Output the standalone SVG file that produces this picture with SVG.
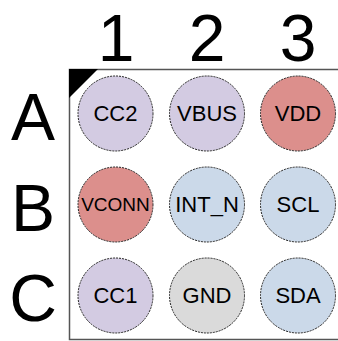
<svg xmlns="http://www.w3.org/2000/svg" width="338" height="341" viewBox="0 0 338 341">
<style>
.lbl{font-family:"Liberation Sans",Arial,sans-serif;font-size:66px;fill:#000;text-anchor:middle}
.pin{stroke:#222;stroke-width:1;stroke-dasharray:2,1}
.pt{font-family:"Liberation Sans",Arial,sans-serif;font-size:22px;fill:#000;text-anchor:middle;dominant-baseline:central}
.p{fill:#d3cbe2}.r{fill:#dc8f8c}.b{fill:#cbd9e9}.g{fill:#dadada}
</style>
<rect x="0" y="0" width="338" height="341" fill="#fff"/>
<g id="labels">
<text class="lbl" x="116" y="61">1</text>
<text class="lbl" x="207" y="61">2</text>
<text class="lbl" x="298" y="61">3</text>
<text class="lbl" x="33" y="140">A</text>
<text class="lbl" x="33" y="231">B</text>
<text class="lbl" x="33" y="321">C</text>
</g>
<g id="package">
<path d="M338,69.5 H69.5 V339.5 H338" fill="none" stroke="#555" stroke-width="1.5"/>
<polygon points="69,69 98,69 69,98" fill="#000"/>
</g>
<g id="A1"><circle class="pin p" cx="115.5" cy="113.5" r="37.5"/><text class="pt" x="115.5" y="113.5">CC2</text></g>
<g id="A2"><circle class="pin p" cx="207" cy="113.5" r="37.5"/><text class="pt" x="207" y="113.5">VBUS</text></g>
<g id="A3"><circle class="pin r" cx="298" cy="113.5" r="37.5"/><text class="pt" x="298" y="113.5">VDD</text></g>
<g id="B1"><circle class="pin r" cx="115.5" cy="204.5" r="37.5"/><text class="pt" x="115.5" y="204.5" style="font-size:19px">VCONN</text></g>
<g id="B2"><circle class="pin b" cx="207" cy="204.5" r="37.5"/><text class="pt" x="207" y="204.5">INT_N</text></g>
<g id="B3"><circle class="pin b" cx="298" cy="204.5" r="37.5"/><text class="pt" x="298" y="204.5">SCL</text></g>
<g id="C1"><circle class="pin p" cx="115.5" cy="295.5" r="37.5"/><text class="pt" x="115.5" y="295.5">CC1</text></g>
<g id="C2"><circle class="pin g" cx="207" cy="295.5" r="37.5"/><text class="pt" x="207" y="295.5">GND</text></g>
<g id="C3"><circle class="pin b" cx="298" cy="295.5" r="37.5"/><text class="pt" x="298" y="295.5">SDA</text></g>
<g id="connectors"/>
</svg>
